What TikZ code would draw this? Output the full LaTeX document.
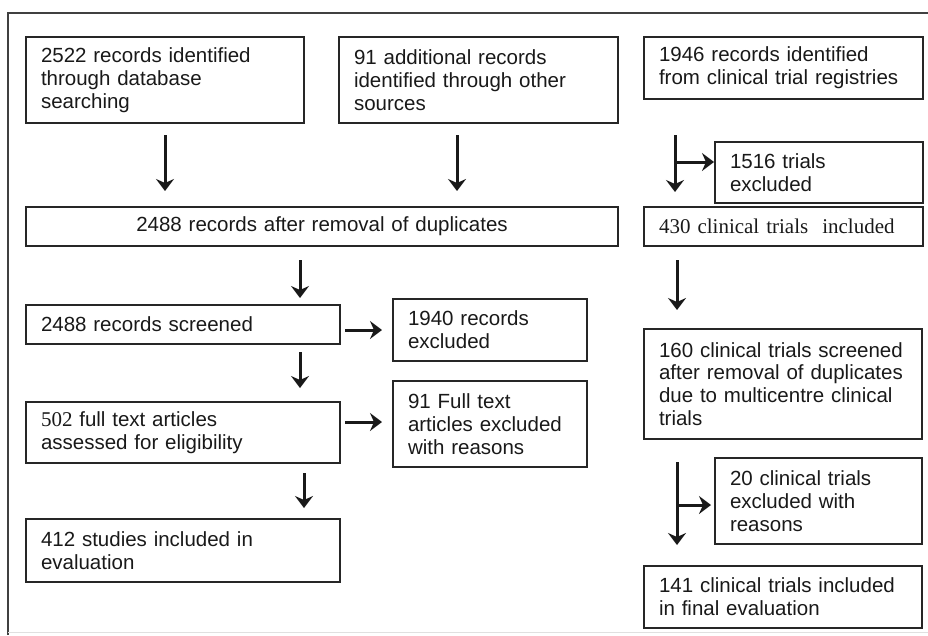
\documentclass[tikz,border=0pt]{standalone}
\usepackage{fontspec}
\setmainfont{Liberation Sans}
\newfontfamily\cambria{Liberation Serif}
\usetikzlibrary{arrows.meta}
\begin{document}
\begin{tikzpicture}[x=1pt,y=-1pt,
  box/.style={draw=black!85, line width=1.2pt, inner xsep=15pt, inner ysep=0pt, outer sep=0pt,
    align=left, font=\fontsize{20.5pt}{22.8pt}\selectfont, text=black!90},
  arr/.style={draw=black!90, line width=3pt, -{Stealth[length=12pt,width=18pt,inset=4pt]}},
  frame/.style={draw=black!75, line width=1.3pt}
  ]
\useasboundingbox (0,0) rectangle (928,635);
% outer frame
\draw[frame] (8,635) -- (8,13) -- (928,13);
\draw[draw=black!12, line width=0.8pt] (8,632) -- (928,632);

% left column
\node[box, text width=248pt, minimum height=86pt] (A) at (165,80) {2522 records identified\\through database\\searching};
\node[box, text width=249pt, minimum height=86pt] (B) at (478.5,80) {91 additional records\\identified through other\\sources};
\node[box, text width=562pt, minimum height=39pt, align=center] (D) at (322,226.5) {2488 records after removal of duplicates};
\node[box, text width=284pt, minimum height=39pt] (G) at (183,324.5) {2488 records screened};
\node[box, text width=164pt, minimum height=62pt] (H) at (490,330) {1940 records\\excluded};
\node[box, text width=284pt, minimum height=61pt] (I) at (183,432.5) {{\cambria\fontsize{21pt}{22.8pt}\selectfont 502} full text articles\\assessed for eligibility};
\node[box, text width=164pt, minimum height=86pt] (J) at (490,424) {91 Full text\\articles excluded\\with reasons};
\node[box, text width=284pt, minimum height=63pt] (K) at (183,550.5) {412 studies included in\\evaluation};

% right column
\node[box, text width=249pt, minimum height=62pt] (C) at (783.5,68) {1946 records identified\\from clinical trial registries};
\node[box, text width=178pt, minimum height=61pt] (E) at (819,172.5) {1516 trials\\excluded};
\node[box, text width=249pt, minimum height=39pt, font=\cambria\fontsize{21pt}{23pt}\selectfont] (F) at (783.5,226.5) {430 clinical trials~ included};
\node[box, text width=248pt, minimum height=110pt] (L) at (783,384) {160 clinical trials screened\\after removal of duplicates\\due to multicentre clinical\\trials};
\node[box, text width=177pt, minimum height=86pt] (M) at (818.5,501) {20 clinical trials\\excluded with\\reasons};
\node[box, text width=248pt, minimum height=62pt] (N) at (783,597) {141 clinical trials included\\in final evaluation};

% helper coordinates
\coordinate (xb) at (457,0);
\coordinate (xd) at (300,0);
\coordinate (xi) at (304,0);
\coordinate (xr) at (675,0);
\coordinate (xs) at (677,0);
\coordinate (yg) at (0,330);
\coordinate (yi) at (0,422);
\coordinate (b1) at (675,162);
\coordinate (b2) at (677,505);

% connectors left
\draw[arr, shorten <=12pt, shorten >=16pt] (A.south) -- (A.south |- D.north);
\draw[arr, shorten <=12pt, shorten >=16pt] (B.south -| xb) -- (D.north -| xb);
\draw[arr, shorten <=14pt, shorten >=7pt] (D.south -| xd) -- (G.north -| xd);
\draw[arr, shorten <=8pt, shorten >=14pt] (G.south -| xd) -- (I.north -| xd);
\draw[arr, shorten <=10pt, shorten >=11pt] (I.south -| xi) -- (K.north -| xi);
\draw[arr, shorten <=5pt, shorten >=11pt] (G.east |- yg) -- (H.west |- yg);
\draw[arr, shorten <=5pt, shorten >=11pt] (I.east |- yi) -- (J.west |- yi);

% connectors right
\draw[arr, shorten <=36pt, shorten >=15pt] (C.south -| xr) -- (F.north -| xr);
\draw[arr, shorten >=1pt] (b1) -- (E.west |- b1);
\draw[arr, shorten <=14pt, shorten >=19pt] (F.south -| xs) -- (L.north -| xs);
\draw[arr, shorten <=23pt, shorten >=21pt] (L.south -| xs) -- (N.north -| xs);
\draw[arr, shorten >=4pt] (b2) -- (M.west |- b2);
\end{tikzpicture}
\end{document}
